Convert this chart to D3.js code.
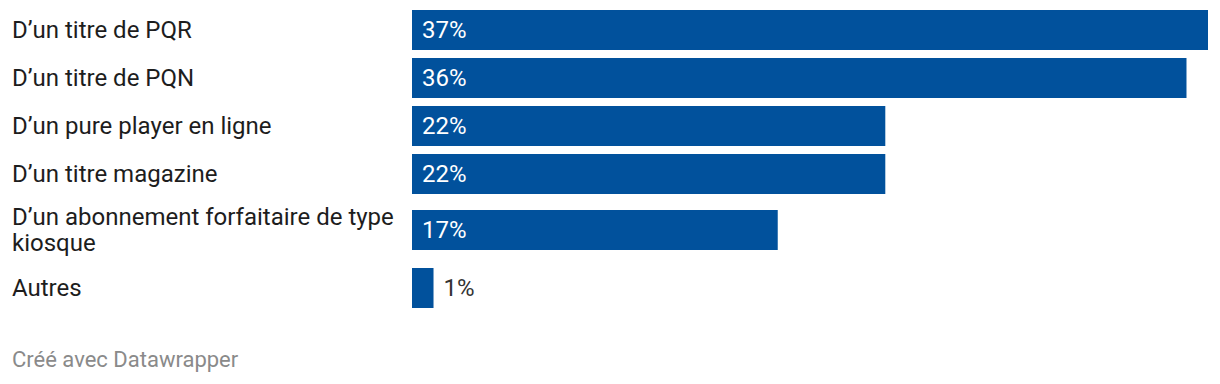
<!DOCTYPE html>
<html lang="fr">
<head>
<meta charset="utf-8">
<script src="https://cdn.jsdelivr.net/npm/d3@7"></script>
<style>
    body { margin: 0; background: #fff; font-family: Roboto, "Noto Sans", sans-serif; }
</style>
</head>
<body>
<div id="chart"></div>
<script>
    const categories = [
        ['D\u2019un titre de PQR'],
        ['D\u2019un titre de PQN'],
        ['D\u2019un pure player en ligne'],
        ['D\u2019un titre magazine'],
        ['D\u2019un abonnement forfaitaire de type', 'kiosque'],
        ['Autres']
    ];
    const values = [37, 36, 22, 22, 17, 1];

    (() => {
        const width = 1220, height = 384;
        const barH = 40, gap = 8, lineH = 26;
        const color = '#01519c';

        const svg = d3.select('#chart').append('svg')
            .attr('width', width).attr('height', height);

        const x = d3.scaleLinear().domain([0, 37]).range([412, 1208]);

        // cumulative row offsets, taller row for wrapped labels
        let y0 = 10;
        const rows = categories.map((lines, i) => {
            const extra = lines.length > 1 ? 8 : 0;
            const r = {lines, value: values[i], y: y0 + extra};
            y0 += barH + gap + (lines.length > 1 ? 18 : 0);
            return r;
        });

        const row = svg.selectAll('g.row')
            .data(rows)
            .enter()
            .append('g')
            .attr('class', 'row')
            .attr('transform', d => `translate(0, ${d.y})`);

        row.append('text')
            .attr('x', 12)
            .attr('font-size', 24)
            .attr('fill', '#1d1d1d')
            .selectAll('tspan')
            .data(d => d.lines.map((t, k) => ({t, k, n: d.lines.length})))
            .enter()
            .append('tspan')
            .attr('x', 12)
            .attr('y', d => barH / 2 + (d.k - (d.n - 1) / 2) * lineH)
            .attr('dy', '0.35em')
            .text(d => d.t);

        row.append('rect')
            .attr('x', x(0))
            .attr('y', 0)
            .attr('width', d => x(d.value) - x(0))
            .attr('height', barH)
            .attr('fill', color);

        row.append('text')
            .attr('x', d => d.value < 3 ? x(d.value) + 10 : x(0) + 10)
            .attr('y', barH / 2)
            .attr('dy', '0.35em')
            .attr('font-size', 24)
            .attr('fill', d => d.value < 3 ? '#333' : '#fff')
            .text(d => d.value + '%');

        svg.append('text')
            .attr('x', 12)
            .attr('y', 367)
            .attr('font-size', 22)
            .attr('fill', '#8a8a8a')
            .text('Cr\u00e9\u00e9 avec Datawrapper');
    })();
</script>
</body>
</html>
